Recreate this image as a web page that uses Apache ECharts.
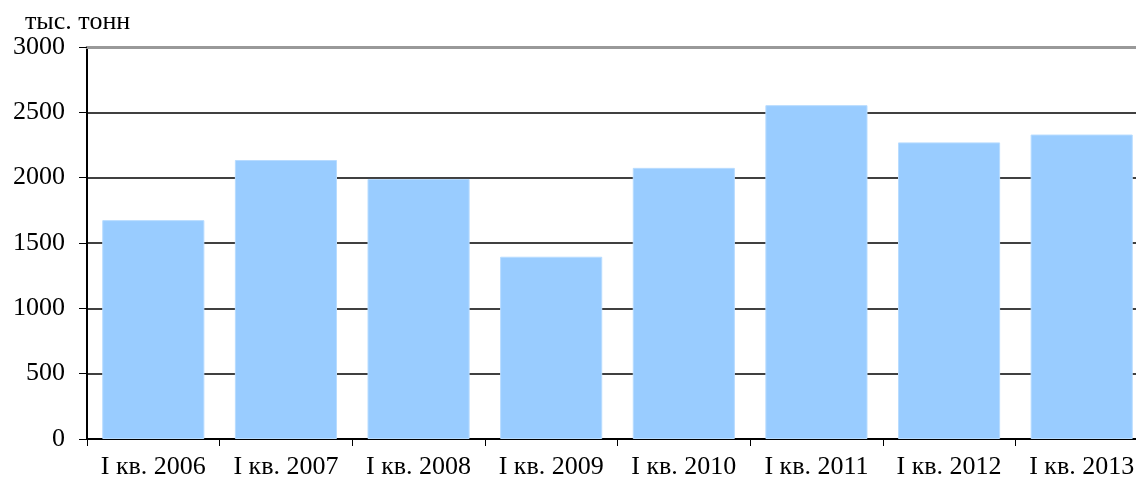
<!DOCTYPE html>
<html>
<head>
<meta charset="utf-8">
<script src="https://cdn.jsdelivr.net/npm/echarts@6/dist/echarts.min.js"></script>
<style>
  html, body { margin: 0; padding: 0; background: #fff; }
  #chart { width: 1136px; height: 480px; }
</style>
</head>
<body>
<div id="chart"></div>
<script>
// данные с графика
const categories = ['I кв. 2006', 'I кв. 2007', 'I кв. 2008', 'I кв. 2009', 'I кв. 2010', 'I кв. 2011', 'I кв. 2012', 'I кв. 2013'];
const values = [1675, 2135, 1990, 1395, 2075, 2555, 2270, 2330];
const unitLabel = 'тыс. тонн';

const font = '"Liberation Serif", "DejaVu Serif", serif';
const chart = echarts.init(document.getElementById('chart'));

chart.setOption({
  animation: false,
  title: {
    text: unitLabel,
    left: 20,
    top: 4,
    textStyle: { fontFamily: font, fontSize: 26, fontWeight: 'normal', color: '#000' }
  },
  // область построения чуть выходит за правый край, как в оригинале
  grid: { left: 87, top: 47, width: 1061, height: 392, outerBoundsMode: 'none', containLabel: false },
  xAxis: [
    {
      type: 'category',
      data: categories,
      axisLine: { lineStyle: { color: '#000', width: 2 } },
      axisTick: { show: true, length: 7, lineStyle: { color: '#000', width: 1 } },
      axisLabel: { interval: 0, hideOverlap: false, fontFamily: font, fontSize: 26, color: '#000', margin: 15 }
    },
    {
      type: 'category',
      position: 'top',
      data: categories,
      axisLine: { lineStyle: { color: '#999', width: 3 } },
      axisTick: { show: false },
      axisLabel: { show: false }
    }
  ],
  yAxis: {
    type: 'value',
    min: 0,
    max: 3000,
    interval: 500,
    axisLine: { show: true, lineStyle: { color: '#000', width: 2 } },
    axisTick: { show: true, length: 8, lineStyle: { color: '#000', width: 1 } },
    axisLabel: { fontFamily: font, fontSize: 26, color: '#000', margin: 22, formatter: v => String(v) },
    splitLine: { show: true, lineStyle: { color: '#000', width: 1.5 } }
  },
  series: [{
    type: 'bar',
    data: values,
    barCategoryGap: '23%',
    itemStyle: { color: '#99ccff', borderColor: '#b8dcff', borderWidth: 1 }
  }]
});
</script>
</body>
</html>
